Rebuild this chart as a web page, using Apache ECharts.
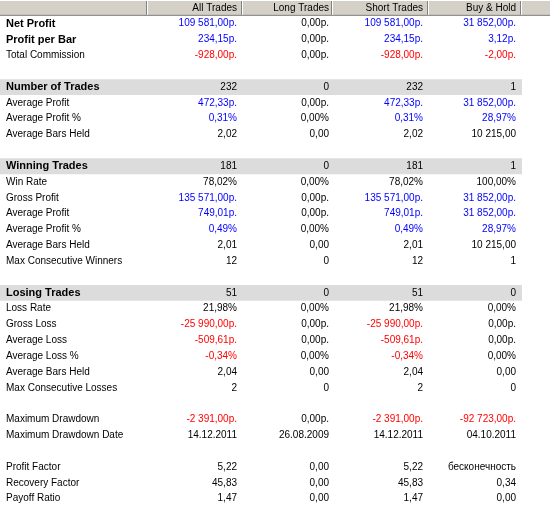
<!DOCTYPE html>
<html><head><meta charset="utf-8">
<script src="https://cdn.jsdelivr.net/npm/echarts@6/dist/echarts.min.js"></script>
<style>html,body{margin:0;padding:0;background:#fff}#c{width:550px;height:530px}</style>
</head><body><div id="c"></div>
<script>
// ---- data ----
const columns = ['All Trades', 'Long Trades', 'Short Trades', 'Buy & Hold'];
const rowLabels = ['Net Profit', 'Profit per Bar', 'Total Commission', '',
  'Number of Trades', 'Average Profit', 'Average Profit %', 'Average Bars Held', '',
  'Winning Trades', 'Win Rate', 'Gross Profit', 'Average Profit', 'Average Profit %', 'Average Bars Held', 'Max Consecutive Winners', '',
  'Losing Trades', 'Loss Rate', 'Gross Loss', 'Average Loss', 'Average Loss %', 'Average Bars Held', 'Max Consecutive Losses', '',
  'Maximum Drawdown', 'Maximum Drawdown Date', '',
  'Profit Factor', 'Recovery Factor', 'Payoff Ratio'];
const allTrades = ['109 581,00р.', '234,15р.', '-928,00р.', '',
  '232', '472,33р.', '0,31%', '2,02', '',
  '181', '78,02%', '135 571,00р.', '749,01р.', '0,49%', '2,01', '12', '',
  '51', '21,98%', '-25 990,00р.', '-509,61р.', '-0,34%', '2,04', '2', '',
  '-2 391,00р.', '14.12.2011', '',
  '5,22', '45,83', '1,47'];
const longTrades = ['0,00р.', '0,00р.', '0,00р.', '',
  '0', '0,00р.', '0,00%', '0,00', '',
  '0', '0,00%', '0,00р.', '0,00р.', '0,00%', '0,00', '0', '',
  '0', '0,00%', '0,00р.', '0,00р.', '0,00%', '0,00', '0', '',
  '0,00р.', '26.08.2009', '',
  '0,00', '0,00', '0,00'];
const shortTrades = ['109 581,00р.', '234,15р.', '-928,00р.', '',
  '232', '472,33р.', '0,31%', '2,02', '',
  '181', '78,02%', '135 571,00р.', '749,01р.', '0,49%', '2,01', '12', '',
  '51', '21,98%', '-25 990,00р.', '-509,61р.', '-0,34%', '2,04', '2', '',
  '-2 391,00р.', '14.12.2011', '',
  '5,22', '45,83', '1,47'];
const buyHold = ['31 852,00р.', '3,12р.', '-2,00р.', '',
  '1', '31 852,00р.', '28,97%', '10 215,00', '',
  '1', '100,00%', '31 852,00р.', '31 852,00р.', '28,97%', '10 215,00', '1', '',
  '0', '0,00%', '0,00р.', '0,00р.', '0,00%', '0,00', '0', '',
  '-92 723,00р.', '04.10.2011', '',
  'бесконечность', '0,34', '0,00'];
const boldRows = ['Net Profit', 'Profit per Bar'];
const sectionRows = ['Number of Trades', 'Winning Trades', 'Losing Trades'];
const profitRows = ['Net Profit', 'Profit per Bar', 'Average Profit', 'Average Profit %', 'Gross Profit'];

// ---- layout / style ----
const W = 550;
const ROW_H = 15.83;
const colRight = [237, 329, 423, 516];
const sepX = [147, 242, 332, 428, 521];
const bandRight = 522;
const labelX = 6;
const FONT = 'Liberation Sans, Arial, sans-serif';

const valueCols = [allTrades, longTrades, shortTrades, buyHold];
const yCats = ['#header'].concat(rowLabels.map((l, i) => l + '#' + i));

function valueColor(label, v) {
  if (v.charAt(0) === '-') return '#ff0000';
  if (profitRows.indexOf(label) >= 0 && !/^0(,00)?[р%]?/.test(v)) return '#0000ff';
  if (profitRows.indexOf(label) >= 0 && /^0,[0-9]*[1-9]/.test(v)) return '#0000ff';
  return '#000000';
}

function renderItem(params, api) {
  const r = api.value(1);
  const cy = api.coord([0, r])[1];
  const h = api.size([0, 1])[1];
  const top = cy - h / 2, bot = cy + h / 2;
  const ch = [];
  if (r === 0) {
    ch.push({type: 'rect', shape: {x: api.coord([0, r])[0], y: top, width: api.coord([W, r])[0], height: h}, style: {fill: '#d4d0c8'}});
    ch.push({type: 'line', shape: {x1: 0, y1: bot - 0.5, x2: W, y2: bot - 0.5}, style: {stroke: '#808080', lineWidth: 1}});
    ch.push({type: 'line', shape: {x1: 0, y1: top + 0.5, x2: W, y2: top + 0.5}, style: {stroke: '#ffffff', lineWidth: 1}});
    sepX.forEach(function (sx) {
      const x = Math.round(api.coord([sx, r])[0]);
      ch.push({type: 'line', shape: {x1: x - 0.5, y1: top + 1, x2: x - 0.5, y2: bot - 1}, style: {stroke: '#808080', lineWidth: 1}});
      ch.push({type: 'line', shape: {x1: x + 0.5, y1: top + 1, x2: x + 0.5, y2: bot - 1}, style: {stroke: '#ffffff', lineWidth: 1}});
    });
    columns.forEach(function (name, c) {
      ch.push({type: 'text', style: {text: name, x: api.coord([colRight[c], r])[0], y: cy, align: 'right', verticalAlign: 'middle', fill: '#000', font: '10px ' + FONT}});
    });
  } else {
    const i = r - 1;
    const label = rowLabels[i];
    if (!label) return {type: 'group', children: []};
    const isSection = sectionRows.indexOf(label) >= 0;
    const isBold = isSection || boldRows.indexOf(label) >= 0;
    if (isSection) {
      ch.push({type: 'rect', shape: {x: 0, y: top, width: api.coord([bandRight, r])[0], height: h}, style: {fill: '#dcdcdc'}});
    }
    ch.push({type: 'text', style: {text: label, x: api.coord([labelX, r])[0], y: cy, align: 'left', verticalAlign: 'middle', fill: '#000', font: (isBold ? 'bold 11px ' : '10px ') + FONT}});
    valueCols.forEach(function (col, c) {
      const v = col[i];
      ch.push({type: 'text', style: {text: v, x: api.coord([colRight[c], r])[0], y: cy, align: 'right', verticalAlign: 'middle', fill: valueColor(label, v), font: '10px ' + FONT}});
    });
  }
  return {type: 'group', children: ch};
}

const chart = echarts.init(document.getElementById('c'), null, {renderer: 'canvas'});
chart.setOption({
  animation: false,
  backgroundColor: '#ffffff',
  grid: {left: 0, right: 0, top: 0, height: ROW_H * yCats.length},
  xAxis: {type: 'value', min: 0, max: W, show: false},
  yAxis: {type: 'category', data: yCats, inverse: true, show: false},
  series: [{
    type: 'custom',
    coordinateSystem: 'cartesian2d',
    renderItem: renderItem,
    encode: {x: 0, y: 1},
    data: yCats.map(function (_, i) { return [0, i]; })
  }]
});
</script>
</body></html>
